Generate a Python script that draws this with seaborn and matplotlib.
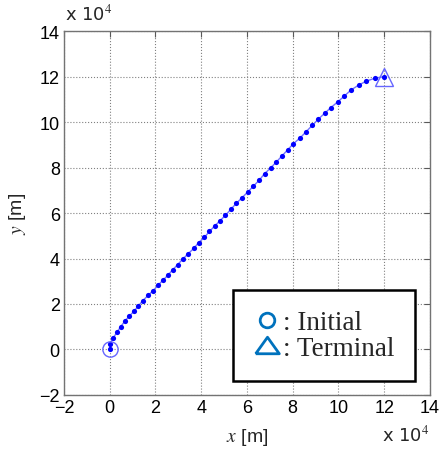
import numpy as np
import pandas as pd
import seaborn as sns
import matplotlib.pyplot as plt
from matplotlib.lines import Line2D

# trajectory, units of 1e4 m
x_pos = [0.00, 0.01, 0.16, 0.32, 0.48, 0.67, 0.86, 1.05, 1.25, 1.44,
         1.68, 1.89, 2.11, 2.32, 2.54, 2.75, 2.97, 3.19, 3.42, 3.67,
         3.89, 4.14, 4.36, 4.59, 4.82, 5.06, 5.29, 5.54, 5.77, 6.03,
         6.28, 6.54, 6.77, 7.03, 7.28, 7.53, 7.78, 8.03, 8.32, 8.58,
         8.85, 9.12, 9.39, 9.66, 9.96, 10.25, 10.55, 10.89, 11.22, 11.60,
         12.00]
y_pos = [0.00, 0.25, 0.52, 0.76, 1.00, 1.26, 1.47, 1.67, 1.91, 2.14,
         2.38, 2.58, 2.82, 3.04, 3.26, 3.50, 3.73, 3.97, 4.20, 4.44,
         4.70, 4.93, 5.19, 5.43, 5.66, 5.90, 6.16, 6.43, 6.66, 6.92,
         7.18, 7.45, 7.73, 7.98, 8.24, 8.51, 8.78, 9.05, 9.30, 9.57,
         9.85, 10.13, 10.38, 10.63, 10.88, 11.14, 11.41, 11.63, 11.80, 11.93,
         12.00]
ticks = [-2, 0, 2, 4, 6, 8, 10, 12, 14]

df = pd.DataFrame({"x": x_pos, "y": y_pos})

sns.set_style("white")
plt.rcParams["font.family"] = ["Liberation Sans", "DejaVu Sans"]
plt.rcParams["mathtext.fontset"] = "stix"

fig = plt.figure(figsize=(4.41, 4.52), dpi=100)
ax = fig.add_axes([0.145, 0.124, 0.83, 0.805])

sns.lineplot(data=df, x="x", y="y", sort=False, estimator=None, ax=ax,
             color=(0.45, 0.45, 1.0), lw=1.0, zorder=2)
sns.scatterplot(data=df, x="x", y="y", ax=ax, color="blue", s=14,
                linewidth=0, zorder=3)
# start / end markers
ax.plot(x_pos[0], y_pos[0], "o", mfc="none", mec=(0.4, 0.4, 1.0),
        ms=11, mew=1.0, zorder=4)
ax.plot(x_pos[-1], y_pos[-1], "^", mfc="none", mec=(0.4, 0.4, 1.0),
        ms=13.5, mew=1.0, zorder=4)

ax.set_xlim(-2, 14)
ax.set_ylim(-2, 14)
ax.set_xticks(ticks)
ax.set_yticks(ticks)
ax.set_xticklabels([f"\u2212{abs(t)}" if t < 0 else str(t) for t in ticks])
ax.set_yticklabels([f"\u2212{abs(t)}" if t < 0 else str(t) for t in ticks])
ax.tick_params(labelsize=13, direction="in", length=4, width=0.8,
               top=True, right=True, colors="0.35", labelcolor="black", pad=3)
ax.grid(True, ls=":", color="0.5", lw=0.8)
for s in ax.spines.values():
    s.set_color("0.45")
    s.set_linewidth(1.0)

ax.set_xlabel(r"$x$ [m]", fontsize=14, labelpad=7)
ax.set_ylabel(r"$y$ [m]", fontsize=14, labelpad=8)

fig.text(0.147, 0.945, r"x 10$^{4}$", fontsize=13, ha="left", va="bottom",
         family=["DejaVu Sans"])
fig.text(0.975, 0.015, r"x 10$^{4}$", fontsize=13, ha="right", va="bottom",
         family=["DejaVu Sans"])

tri = [(-1, -0.7), (1, -0.7), (0, 0.7), (-1, -0.7)]
handles = [
    Line2D([], [], ls="none", marker="o", mfc="none", mec="#0072BD", ms=10.5, mew=2),
    Line2D([], [], ls="none", marker=tri, mfc="none", mec="#0072BD", ms=17, mew=2),
]
leg = ax.legend(handles, [": Initial", ": Terminal"], loc="lower left",
                bbox_to_anchor=(0.462, 0.038), frameon=True, fancybox=False,
                handlelength=1.0, handletextpad=0.1, borderpad=0.75,
                labelspacing=0.02, borderaxespad=0,
                prop={"family": "Liberation Serif", "size": 19.5})
leg.get_frame().set_edgecolor("black")
leg.get_frame().set_linewidth(1.8)
leg.get_frame().set_alpha(1)

fig.savefig("out.png", dpi=100)
